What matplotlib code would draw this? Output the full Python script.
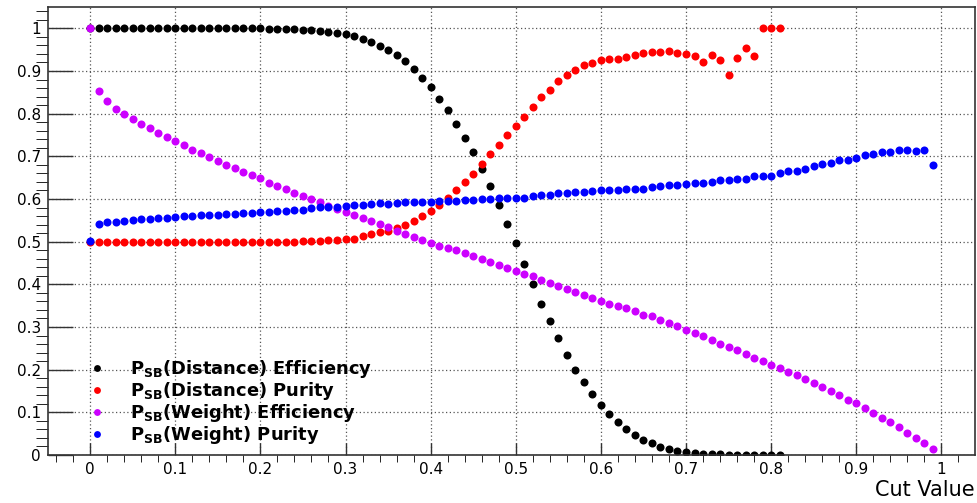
import matplotlib
matplotlib.use('Agg')
import matplotlib.pyplot as plt
from matplotlib.ticker import MultipleLocator, FuncFormatter
import numpy as np

plt.rcParams['font.family'] = ['DejaVu Sans']
plt.rcParams['mathtext.fontset'] = 'custom'
plt.rcParams['mathtext.bf'] = 'DejaVu Sans:bold'
plt.rcParams['mathtext.rm'] = 'DejaVu Sans'

# cut values: 0.00 .. 0.99 in steps of 0.01
cut = np.round(np.arange(100) * 0.01, 2)

dist_eff = [1.0] * 21 + [
    0.999, 0.999, 0.998, 0.998, 0.997, 0.995, 0.994, 0.991, 0.990,
    0.986, 0.981, 0.976, 0.969, 0.959, 0.950, 0.937, 0.923, 0.905, 0.884,
    0.862, 0.835, 0.809, 0.776, 0.743, 0.711, 0.671, 0.631, 0.587, 0.541,
    0.498, 0.448, 0.400, 0.355, 0.313, 0.274, 0.234, 0.200, 0.170, 0.143,
    0.118, 0.096, 0.078, 0.061, 0.047, 0.036, 0.027, 0.019, 0.013, 0.009,
    0.007, 0.004, 0.003, 0.002, 0.002, 0.001, 0.001, 0.0005, 0.0005, 0.0003,
    0.0003, 0.0002]

dist_pur = [0.5] * 25 + [
    0.502, 0.502, 0.502, 0.504, 0.505,
    0.506, 0.507, 0.513, 0.518, 0.522, 0.526, 0.531, 0.539, 0.548, 0.559,
    0.572, 0.587, 0.602, 0.620, 0.639, 0.658, 0.683, 0.706, 0.727, 0.751,
    0.770, 0.792, 0.816, 0.839, 0.856, 0.876, 0.891, 0.902, 0.913, 0.918,
    0.926, 0.928, 0.929, 0.933, 0.937, 0.942, 0.944, 0.944, 0.948, 0.942,
    0.939, 0.935, 0.922, 0.938, 0.926, 0.891, 0.930, 0.955, 0.935, 1.0,
    1.0, 1.0]

wt_eff = [
    1.0, 0.853, 0.830, 0.812, 0.800, 0.787, 0.776, 0.766, 0.754, 0.746,
    0.735, 0.727, 0.716, 0.707, 0.699, 0.689, 0.679, 0.672, 0.663, 0.656,
    0.649, 0.638, 0.631, 0.623, 0.615, 0.608, 0.601, 0.593, 0.584, 0.577,
    0.570, 0.563, 0.556, 0.549, 0.541, 0.534, 0.526, 0.519, 0.512, 0.505,
    0.497, 0.491, 0.485, 0.480, 0.473, 0.466, 0.459, 0.453, 0.445, 0.439,
    0.431, 0.424, 0.419, 0.409, 0.403, 0.397, 0.390, 0.383, 0.375, 0.368,
    0.362, 0.355, 0.349, 0.344, 0.337, 0.329, 0.325, 0.317, 0.310, 0.302,
    0.292, 0.285, 0.278, 0.270, 0.261, 0.252, 0.245, 0.236, 0.227, 0.220,
    0.211, 0.203, 0.194, 0.188, 0.178, 0.169, 0.159, 0.151, 0.141, 0.130,
    0.121, 0.111, 0.099, 0.087, 0.077, 0.065, 0.052, 0.041, 0.027, 0.013]

wt_pur = [
    0.501, 0.542, 0.546, 0.547, 0.549, 0.551, 0.553, 0.553, 0.555, 0.556,
    0.558, 0.559, 0.560, 0.562, 0.562, 0.563, 0.565, 0.565, 0.567, 0.567,
    0.569, 0.570, 0.571, 0.573, 0.574, 0.575, 0.579, 0.581, 0.582, 0.582,
    0.584, 0.585, 0.586, 0.588, 0.590, 0.588, 0.590, 0.592, 0.593, 0.593,
    0.594, 0.595, 0.596, 0.596, 0.597, 0.597, 0.601, 0.600, 0.602, 0.603,
    0.602, 0.603, 0.607, 0.609, 0.609, 0.613, 0.615, 0.616, 0.616, 0.619,
    0.620, 0.620, 0.622, 0.623, 0.623, 0.623, 0.627, 0.630, 0.633, 0.633,
    0.634, 0.637, 0.638, 0.641, 0.644, 0.645, 0.648, 0.648, 0.654, 0.654,
    0.655, 0.661, 0.665, 0.665, 0.670, 0.677, 0.681, 0.685, 0.692, 0.692,
    0.696, 0.703, 0.705, 0.709, 0.709, 0.714, 0.714, 0.713, 0.714, 0.680]

labels = [r'P$_\mathbf{SB}$(Distance) Efficiency',
          r'P$_\mathbf{SB}$(Distance) Purity',
          r'P$_\mathbf{SB}$(Weight) Efficiency',
          r'P$_\mathbf{SB}$(Weight) Purity']
colors = ['black', '#ff0000', '#cc00ff', '#0000ff']

fig = plt.figure(figsize=(9.78, 5.03), dpi=100)
ax = fig.add_axes([48/978, 48/503, 927/978, 448/503])

series = [dist_eff, dist_pur, wt_eff, wt_pur]
for ys, c, lab in zip(series, colors, labels):
    ax.plot(cut[:len(ys)], ys, 'o', color=c, ms=5.8, mew=0, label=lab)

ax.set_xlim(-0.0495, 1.0395)
ax.set_ylim(0, 1.05)
ax.xaxis.set_major_locator(MultipleLocator(0.1))
ax.xaxis.set_minor_locator(MultipleLocator(0.02))
ax.yaxis.set_major_locator(MultipleLocator(0.1))
ax.yaxis.set_minor_locator(MultipleLocator(0.02))
fmt = FuncFormatter(lambda v, p: '%g' % round(v, 2))
ax.xaxis.set_major_formatter(fmt)
ax.yaxis.set_major_formatter(fmt)

ax.grid(True, which='major', color='#555555', linestyle=(0, (1, 2)), linewidth=0.9)
ax.set_axisbelow(True)
ax.tick_params(direction='in', colors='#333333', labelcolor='black', labelsize=11, width=1)
ax.tick_params(axis='x', which='major', length=9, pad=5)
ax.tick_params(axis='x', which='minor', length=5)
ax.tick_params(axis='y', which='major', length=18, pad=5)
ax.tick_params(axis='y', which='minor', length=9)
for s in ax.spines.values():
    s.set_color('#333333')
    s.set_linewidth(1.2)

ax.set_xlabel('Cut Value', fontsize=15, loc='right', labelpad=2)

leg = ax.legend(loc='lower left', bbox_to_anchor=(0.034, 0.0), frameon=False,
                prop={'weight': 'bold', 'size': 12.9}, handlelength=1.0,
                handletextpad=1.3, labelspacing=0.0, markerscale=0.85,
                borderaxespad=0.1)

fig.savefig('out.png', dpi=100)
